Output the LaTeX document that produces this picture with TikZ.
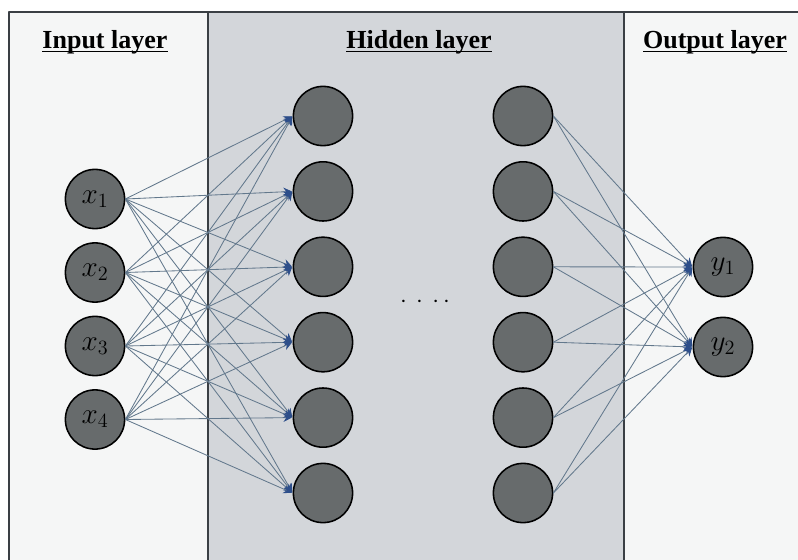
\documentclass[tikz,border=0pt]{standalone}
\usepackage{fontspec}
\newfontfamily\headfont{Liberation Serif}
\usetikzlibrary{arrows.meta}
\definecolor{paper}{HTML}{F5F6F6}
\definecolor{panelgray}{HTML}{D3D6DA}
\definecolor{framegray}{HTML}{3A3F44}
\definecolor{nodegray}{HTML}{676B6C}
\definecolor{edgeblue}{HTML}{62788C}
\definecolor{tipblue}{HTML}{2D4E8A}
% underline that runs through the descenders, as in the original
\newcommand{\headline}[1]{\setbox0\hbox{#1}\rlap{\rule[-3pt]{\wd0}{0.9pt}}\box0}
\tikzset{
  every picture/.style={line join=round, line cap=round},
  neuron/.style={circle, draw=black, line width=1.1pt, fill=nodegray,
    minimum size=1.48cm, inner sep=0pt, font=\fontsize{20}{22}\selectfont},
  link/.style={edgeblue, line width=0.6pt,
    -{Stealth[length=6pt,width=6pt,color=tipblue]}, shorten >=0.5pt},
  title/.style={anchor=base, font=\headfont\bfseries\fontsize{18.5}{20}\selectfont},
}
\begin{document}
\begin{tikzpicture}[x=0.025cm,y=-0.025cm]
\useasboundingbox (0,0) rectangle (798,560);
\fill[white] (0,0) rectangle (798,560);
% panels
\draw[framegray, line width=1.1pt, fill=paper] (9,12) rectangle (806,570);
\draw[framegray, line width=1.1pt, fill=panelgray] (208,12) rectangle (624,570);
\node[title] (tin) at (105,48) {\headline{Input layer}};
\node[title] (thid) at (419,48) {\headline{Hidden layer}};
\node[title] (tout) at (715,48) {\headline{Output layer}};
% neurons
\foreach \i in {1,...,4}
  \node[neuron] (x\i) at (95,{199+73.5*(\i-1)}) {$x_{\i}$};
\foreach \j in {1,...,6}{
  \node[neuron] (h\j) at (323,{116+75.4*(\j-1)}) {};
  \node[neuron] (k\j) at (523,{116+75.4*(\j-1)}) {};
}
\node[neuron] (y1) at (723,267) {$y_1$};
\node[neuron] (y2) at (723,347) {$y_2$};
\node[font=\fontsize{16}{18}\selectfont] (dots) at (425,302) {$\cdot\,\cdot\,\cdot\,\cdot$};
% connections
\foreach \i in {1,...,4}
  \foreach \j in {1,...,6}
    \draw[link] (x\i.east) -- (h\j.west);
\foreach \j in {1,...,6}
  \foreach \o in {1,2}
    \draw[link] (k\j.east) -- (y\o.west);
\end{tikzpicture}
\end{document}
